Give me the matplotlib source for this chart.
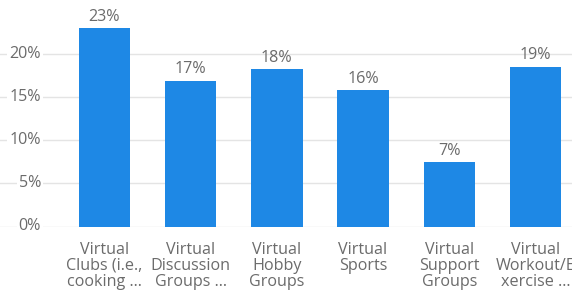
import matplotlib
matplotlib.use("Agg")
import matplotlib.pyplot as plt
from matplotlib.transforms import blended_transform_factory

categories = ["Virtual\nClubs (i.e.,\ncooking ...", "Virtual\nDiscussion\nGroups ...",
              "Virtual\nHobby\nGroups", "Virtual\nSports", "Virtual\nSupport\nGroups",
              "Virtual\nWorkout/E\nxercise ..."]
values = [23.0, 16.9, 18.25, 15.8, 7.45, 18.5]
value_labels = ["23%", "17%", "18%", "16%", "7%", "19%"]
yticks = [0, 5, 10, 15, 20]
ytick_labels = ["0%", "5%", "10%", "15%", "20%"]

plt.rcParams['font.family'] = ['Open Sans', 'DejaVu Sans']
W, H = 572, 293
fig = plt.figure(figsize=(W/100, H/100), dpi=100)
ax = fig.add_axes([0, (H-226.5)/H, 1, 226.5/H])
ax.set_xlim(-1.212, 5.424)
ax.set_ylim(0, 226.5/8.63)

fs = 11.6
text_col = "#6b6b6b"
for y in yticks:
    ax.axhline(y, color="#e4e4e4", lw=1, zorder=0)

x = list(range(len(categories)))
ax.bar(x, values, width=0.595, color="#1E88E5", zorder=2)
for xi, v, lab in zip(x, values, value_labels):
    ax.annotate(lab, (xi, v), xytext=(0, 2.5), textcoords="offset points",
                ha="center", va="bottom", fontsize=fs, color=text_col)

tr = blended_transform_factory(ax.transAxes, ax.transData)
for y, lab in zip(yticks, ytick_labels):
    ax.text(41/W, y, lab, transform=tr, ha="right", va="center", fontsize=fs,
            color=text_col, bbox=dict(facecolor="white", edgecolor="none", pad=1.5), zorder=3)

ax.set_xticks(x)
ax.set_xticklabels(categories, fontsize=fs, color=text_col, linespacing=0.99)
ax.tick_params(axis="x", length=0, pad=11)
ax.set_yticks([])
for s in ax.spines.values():
    s.set_visible(False)

fig.savefig("out.png", dpi=100)
